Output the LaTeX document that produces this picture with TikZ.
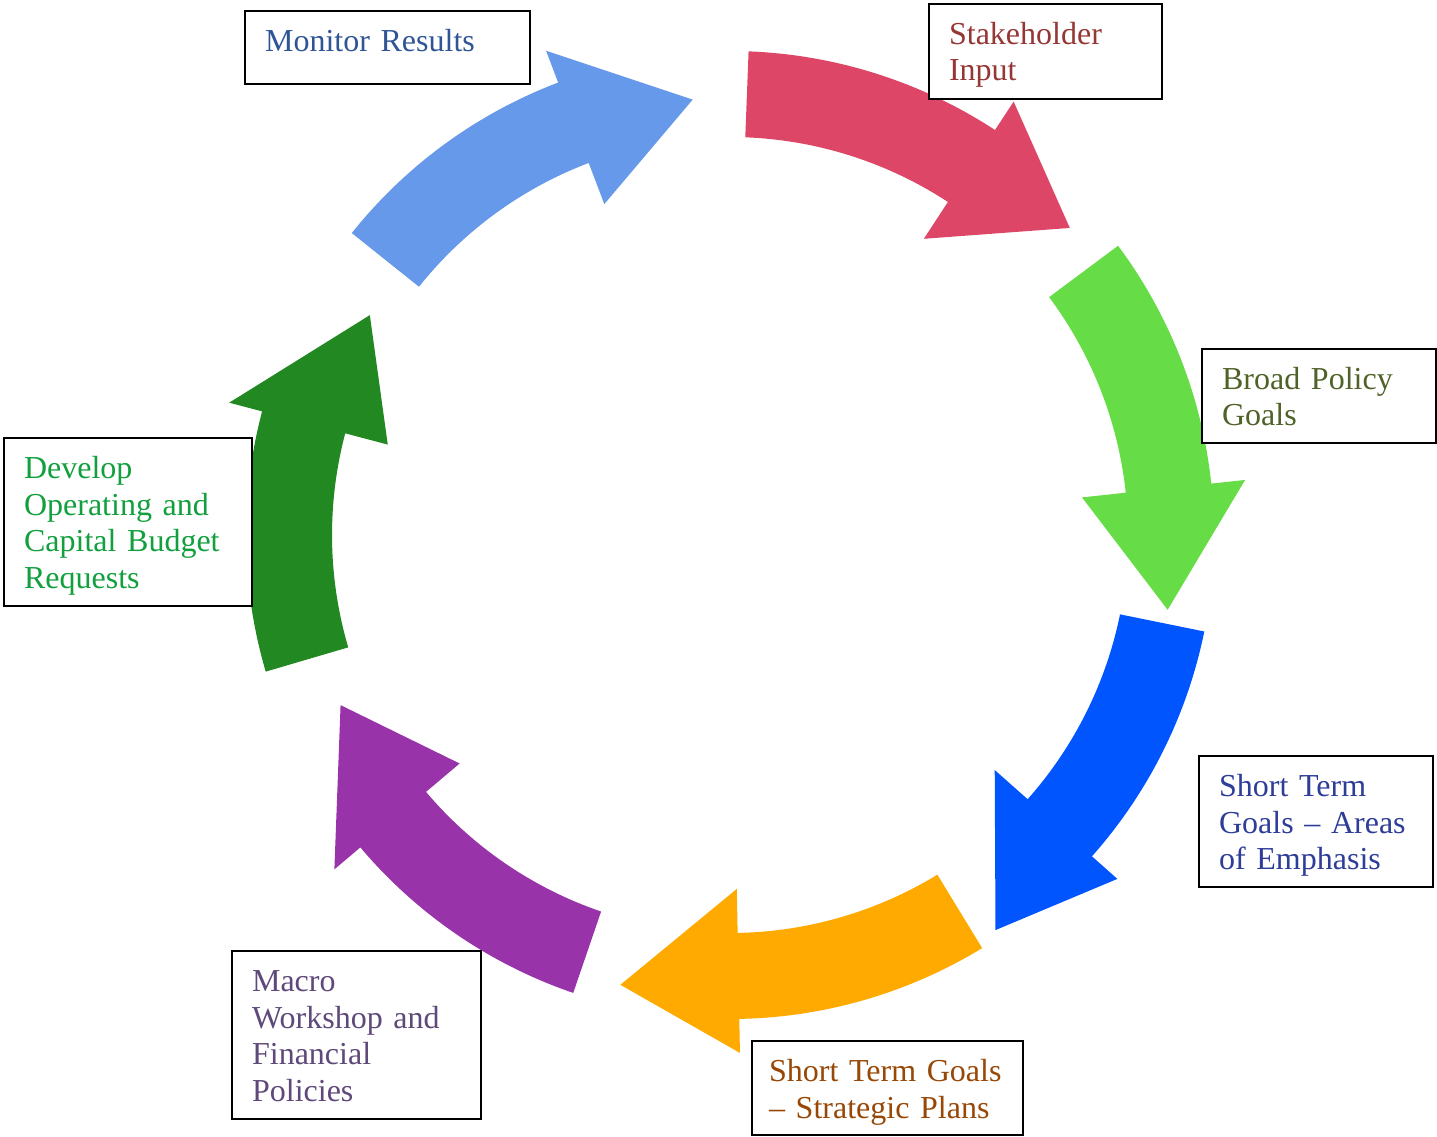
\documentclass[tikz,border=0pt]{standalone}
\usepackage{fontspec}
\setmainfont{Liberation Serif}
\usepackage{tikz}
\usetikzlibrary{positioning}

\definecolor{arrowred}{HTML}{DE4668}
\definecolor{arrowlime}{HTML}{66DD46}
\definecolor{arrowblue}{HTML}{0055FF}
\definecolor{arrowamber}{HTML}{FFAA00}
\definecolor{arrowpurple}{HTML}{9933AA}
\definecolor{arrowforest}{HTML}{228822}
\definecolor{arrowsky}{HTML}{6699EA}
\definecolor{txtmonitor}{HTML}{2F5597}
\definecolor{txtstake}{HTML}{953735}
\definecolor{txtbroad}{HTML}{4F6228}
\definecolor{txtareas}{HTML}{2E3D98}
\definecolor{txtplans}{HTML}{984806}
\definecolor{txtmacro}{HTML}{5F497A}
\definecolor{txtdevelop}{HTML}{12A03E}

\begin{document}
\begin{tikzpicture}[x=0.01cm,y=0.01cm,
 stepbox/.style={rectangle,draw=black,line width=0.6pt,fill=white,
   anchor=north west,align=left,inner xsep=0.2cm,inner ysep=0pt,
   text height=0.40cm,font=\fontsize{9.1pt}{10.5pt}\selectfont}]
 \useasboundingbox (0,0) rectangle (1437,-1137);
 \coordinate (hub) at (730,-535);
 % cycle arrows: colour / tail / head base / tip angle / tip radius
 \begin{scope}[shift={(hub)}]
 \foreach \col/\ta/\hb/\tp/\tr in {arrowred/87.8/56.8/42.1/458,
     arrowlime/36.7/6.1/-9.7/444, arrowblue/-11.5/-41.6/-56.1/476,
     arrowamber/-58.6/-88.9/-103.7/463, arrowpurple/-108.9/-139.8/-156.4/425,
     arrowforest/-163.6/-194.8/-211.4/422, arrowsky/141.4/110.8/94.9/437}
   \fill[\col] (\ta:484) arc[start angle=\ta,end angle=\hb,radius=484]
     -- (\hb:518) -- (\tp:\tr) -- (\hb:354) -- (\hb:398)
     arc[start angle=\hb,end angle=\ta,radius=398] -- cycle;
 \end{scope}
 % text boxes
 \node[stepbox,text=txtmonitor,text width=2.45cm,text depth=0.33cm]
   (monitor) at (244,-10) {Monitor Results};
 \node[stepbox,text=txtstake,text width=1.93cm,text depth=0.55cm]
   (stake) at (928,-3) {Stakeholder\\Input};
 \node[stepbox,text=txtbroad,text width=1.94cm,text depth=0.54cm]
   (broad) at (1201,-348) {Broad Policy\\Goals};
 \node[stepbox,text=txtareas,text width=1.94cm,text depth=0.91cm]
   (areas) at (1198,-755) {Short Term\\Goals – Areas\\of Emphasis};
 \node[stepbox,text=txtplans,text width=2.37cm,inner xsep=0.17cm,text depth=0.54cm]
   (plans) at (751,-1040) {Short Term Goals\\– Strategic Plans};
 \node[stepbox,text=txtmacro,text width=2.09cm,text depth=1.28cm]
   (macro) at (231,-950) {Macro\\Workshop and\\Financial\\Policies};
 \node[stepbox,text=txtdevelop,text width=2.08cm,text depth=1.28cm]
   (develop) at (3,-437) {Develop\\Operating and\\Capital Budget\\Requests};
\end{tikzpicture}
\end{document}
